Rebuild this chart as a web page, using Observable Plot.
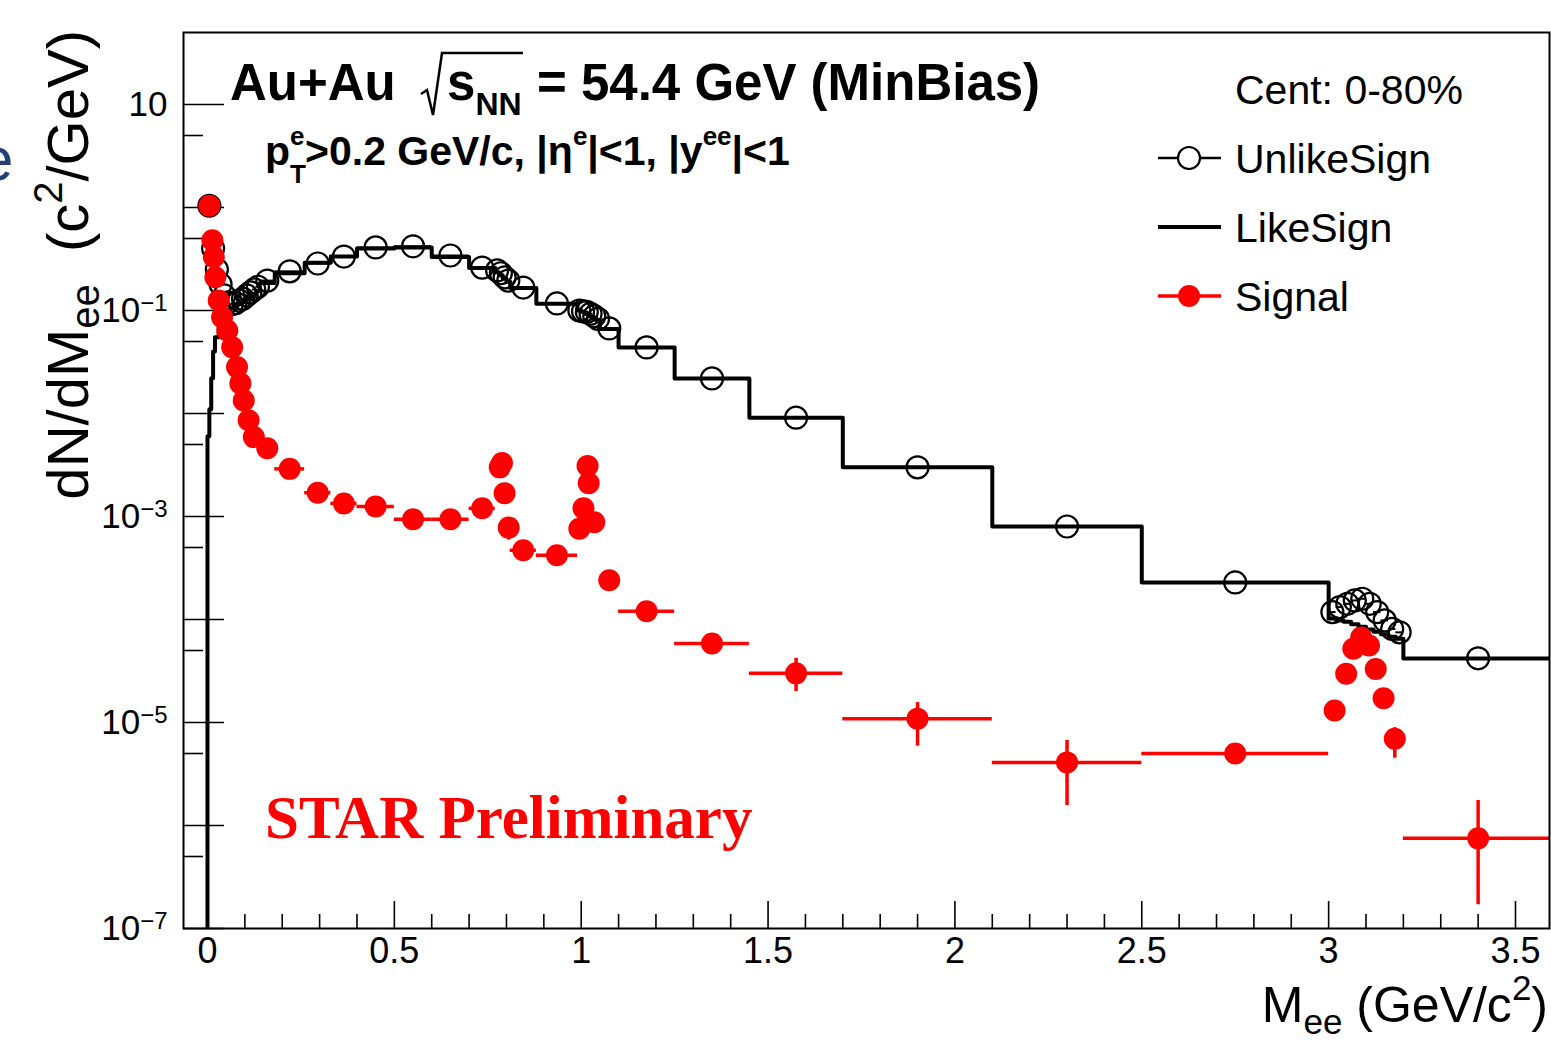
<!DOCTYPE html>
<html>
<head>
<meta charset="utf-8">
<script src="https://cdn.jsdelivr.net/npm/d3@7"></script>
<script src="https://cdn.jsdelivr.net/npm/@observablehq/plot@0.6"></script>
<style>
  body { margin: 0; background: #fff; }
  #chart { position: relative; width: 1551px; height: 1045px; overflow: hidden; }
  #chart svg { display: block; }
</style>
</head>
<body>
<div id="chart"></div>
<script>
// Dielectron invariant-mass spectra, Au+Au at sqrt(sNN) = 54.4 GeV, 0-80% centrality.

// Like-sign background histogram: bin edges (GeV/c^2) and bin contents (c^2/GeV)
const lsEdges = [
  0, 0.005, 0.01, 0.015, 0.02, 0.03, 0.04, 0.05, 0.06, 0.07, 0.08, 0.09, 0.1, 0.11, 0.12, 0.13, 0.14,
  0.18, 0.26, 0.33, 0.40, 0.50, 0.60, 0.70, 0.77, 0.78, 0.79, 0.80, 0.81, 0.88, 0.99,
  1.00, 1.01, 1.02, 1.03, 1.04, 1.05, 1.10, 1.25, 1.45, 1.70, 2.10, 2.50, 3.00,
  3.02, 3.04, 3.06, 3.08, 3.10, 3.12, 3.14, 3.16, 3.18, 3.20, 3.60
];
const lsValues = [
  0.006, 0.011, 0.022, 0.04, 0.055, 0.075, 0.09, 0.1, 0.105, 0.11, 0.115, 0.12, 0.128, 0.135, 0.145, 0.155,
  0.185, 0.23, 0.29, 0.334, 0.40, 0.41, 0.33, 0.258, 0.235, 0.22, 0.205, 0.19, 0.165, 0.116,
  0.1, 0.097, 0.093, 0.088, 0.084, 0.08, 0.066, 0.0438, 0.0219, 0.0091, 0.003, 0.0008, 0.000229,
  1.02e-4, 9.8e-5, 9.5e-5, 9.0e-5, 8.5e-5, 8.0e-5, 7.6e-5, 7.2e-5, 6.8e-5, 6.5e-5, 4.18e-5
];

// Unlike-sign pairs: bin centre, content, bin half-width
const usMass = [
  0.005, 0.015, 0.025, 0.035, 0.045, 0.055, 0.065, 0.075, 0.085, 0.095, 0.105, 0.115, 0.125, 0.135,
  0.16, 0.22, 0.295, 0.365, 0.45, 0.55, 0.65, 0.735, 0.775, 0.785, 0.795, 0.805, 0.845, 0.935,
  0.995, 1.005, 1.015, 1.025, 1.035, 1.045, 1.075, 1.175, 1.35, 1.575, 1.9, 2.3, 2.75,
  3.01, 3.03, 3.05, 3.07, 3.09, 3.11, 3.13, 3.15, 3.17, 3.19, 3.4
];
const usValue = [
  1.04, 0.40, 0.25, 0.18, 0.14, 0.12, 0.115, 0.118, 0.125, 0.13, 0.14, 0.15, 0.16, 0.17,
  0.195, 0.24, 0.286, 0.334, 0.41, 0.42, 0.342, 0.261, 0.245, 0.23, 0.21, 0.195, 0.167, 0.117,
  0.1, 0.098, 0.097, 0.093, 0.088, 0.083, 0.067, 0.0438, 0.0219, 0.0091, 0.003, 0.0008, 0.000229,
  1.18e-4, 1.32e-4, 1.42e-4, 1.53e-4, 1.59e-4, 1.42e-4, 1.18e-4, 9.8e-5, 8.1e-5, 7.5e-5, 4.2e-5
];
const usHalfWidth = [
  0.005, 0.005, 0.005, 0.005, 0.005, 0.005, 0.005, 0.005, 0.005, 0.005, 0.005, 0.005, 0.005, 0.005,
  0.02, 0.04, 0.035, 0.035, 0.05, 0.05, 0.05, 0.035, 0.005, 0.005, 0.005, 0.005, 0.035, 0.055,
  0.005, 0.005, 0.005, 0.005, 0.005, 0.005, 0.025, 0.075, 0.1, 0.125, 0.2, 0.2, 0.25,
  0.01, 0.01, 0.01, 0.01, 0.01, 0.01, 0.01, 0.01, 0.01, 0.01, 0.2
];

// Signal (unlike-sign minus like-sign): centre, content, half-width, stat. error band
const sigMass = [
  0.005, 0.013, 0.017, 0.021, 0.030, 0.039, 0.053, 0.066, 0.079, 0.088, 0.097, 0.110, 0.124,
  0.16, 0.22, 0.295, 0.365, 0.45, 0.55, 0.65, 0.735, 0.782, 0.788, 0.795, 0.806, 0.845, 0.935,
  0.995, 1.006, 1.017, 1.02, 1.035, 1.075, 1.175, 1.35, 1.575, 1.9, 2.3, 2.75,
  3.016, 3.047, 3.066, 3.087, 3.108, 3.126, 3.147, 3.177, 3.4
];
const sigValue = [
  1.04, 0.48, 0.33, 0.21, 0.125, 0.086, 0.064, 0.044, 0.0282, 0.0196, 0.0134, 0.0086, 0.0059,
  0.0046, 0.0029, 0.0017, 0.00134, 0.00125, 0.00094, 0.00094, 0.0012, 0.0030, 0.0033, 0.00168, 0.00078, 0.00047, 0.00042,
  0.00076, 0.0012, 0.0031, 0.0021, 0.00088, 0.00024, 0.00012, 5.85e-5, 3.0e-5, 1.09e-5, 4.1e-6, 5.0e-6,
  1.31e-5, 2.97e-5, 5.2e-5, 6.7e-5, 5.6e-5, 3.3e-5, 1.72e-5, 6.95e-6, 7.5e-7
];
const sigHalfWidth = [
  0.005, 0.005, 0.005, 0.005, 0.005, 0.005, 0.005, 0.005, 0.005, 0.005, 0.005, 0.005, 0.005,
  0.02, 0.04, 0.035, 0.035, 0.05, 0.05, 0.05, 0.035, 0.005, 0.005, 0.005, 0.005, 0.035, 0.055,
  0.005, 0.005, 0.005, 0.005, 0.005, 0.025, 0.075, 0.1, 0.125, 0.2, 0.2, 0.25,
  0.01, 0.01, 0.01, 0.01, 0.01, 0.01, 0.01, 0.01, 0.2
];
const sigErrLow = [
  1.0, 0.46, 0.32, 0.2, 0.12, 0.083, 0.062, 0.042, 0.027, 0.0188, 0.0128, 0.0082, 0.0056,
  0.0043, 0.0027, 0.0016, 0.00126, 0.00117, 0.00087, 0.00087, 0.00112, 0.0028, 0.0031, 0.00155, 0.00059, 0.00040, 0.00037,
  0.00068, 0.0011, 0.0029, 0.0019, 0.00078, 0.00021, 1.0e-4, 4.6e-5, 2.0e-5, 5.9e-6, 1.56e-6, 4.3e-6,
  1.1e-5, 2.6e-5, 4.7e-5, 6.1e-5, 5.1e-5, 2.9e-5, 1.45e-5, 4.5e-6, 1.7e-7
];
const sigErrHigh = [
  1.08, 0.5, 0.34, 0.22, 0.13, 0.089, 0.066, 0.046, 0.0294, 0.0204, 0.014, 0.009, 0.0062,
  0.0049, 0.0031, 0.0018, 0.00142, 0.00133, 0.00101, 0.00101, 0.00128, 0.0032, 0.0035, 0.00181, 0.00093, 0.00054, 0.00047,
  0.00084, 0.0013, 0.0033, 0.0023, 0.00098, 0.00028, 1.4e-4, 7.2e-5, 4.2e-5, 1.56e-5, 6.7e-6, 5.8e-6,
  1.5e-5, 3.3e-5, 5.7e-5, 7.3e-5, 6.1e-5, 3.7e-5, 2.0e-5, 8.9e-6, 1.75e-6
];

// Axis ticks
const xTicksMajor = [0, 0.5, 1, 1.5, 2, 2.5, 3, 3.5];
const xTicksMinor = [0.1, 0.2, 0.3, 0.4, 0.6, 0.7, 0.8, 0.9, 1.1, 1.2, 1.3, 1.4, 1.6, 1.7, 1.8, 1.9,
  2.1, 2.2, 2.3, 2.4, 2.6, 2.7, 2.8, 2.9, 3.1, 3.2, 3.3, 3.4];
const yTicksMajor = [10, 1, 1e-1, 1e-2, 1e-3, 1e-4, 1e-5, 1e-6, 1e-7];
const yTicksMinor = [5, 0.5, 0.05, 0.005, 5e-4, 5e-5, 5e-6, 5e-7];
const yTickLabels = [10, 1e-1, 1e-3, 1e-5, 1e-7];

const xDomain = [-0.0642, 3.591];
const yDomain = [1e-7, 50];

// Tables for the marks
const lsSteps = [{m: lsEdges[0], v: yDomain[0]}]
  .concat(lsEdges.map((e, i) => ({m: e, v: lsValues[Math.min(i, lsValues.length - 1)]})));
const unlike = usMass.map((m, i) => ({m, v: usValue[i], h: usHalfWidth[i]}));
const signal = sigMass.map((m, i) => ({m, v: sigValue[i], h: sigHalfWidth[i], lo: sigErrLow[i], hi: sigErrHigh[i]}));

const W = 1551, H = 1045;
const mL = 183, mR = 2, mT = 32, mB = 117;
const frameH = H - mT - mB, frameW = W - mL - mR;
const RED = "#ff0000";
const SANS = "'Liberation Sans', Arial, Helvetica, sans-serif";

const plot = Plot.plot({
  width: W,
  height: H,
  marginLeft: mL,
  marginRight: mR,
  marginTop: mT,
  marginBottom: mB,
  style: {fontFamily: SANS, color: "#000", background: "#fff"},
  x: {domain: xDomain},
  y: {type: "log", domain: yDomain},
  marks: [
    // tick marks drawn inward from the frame
    Plot.tickX(xTicksMajor, {x: d => d, insetTop: frameH - 27, stroke: "#000", strokeWidth: 1.6}),
    Plot.tickX(xTicksMinor, {x: d => d, insetTop: frameH - 14, stroke: "#000", strokeWidth: 1.6}),
    Plot.tickY(yTicksMajor, {y: d => d, insetRight: frameW - 41, stroke: "#000", strokeWidth: 1.6}),
    Plot.tickY(yTicksMinor, {y: d => d, insetRight: frameW - 20, stroke: "#000", strokeWidth: 1.6}),
    Plot.axisX({ticks: xTicksMajor, tickSize: 0, tickPadding: 9, fontSize: 36, label: null, tickFormat: d => String(d)}),
    Plot.axisY({ticks: yTickLabels, tickSize: 0, tickPadding: 16, fontSize: 35, label: null, tickFormat: d => String(d)}),
    // like-sign histogram
    Plot.line(lsSteps, {x: "m", y: "v", curve: "step-after", stroke: "#000", strokeWidth: 4, clip: true}),
    // unlike-sign points
    Plot.ruleY(unlike, {y: "v", x1: d => d.m - d.h, x2: d => d.m + d.h, stroke: "#000", strokeWidth: 2, clip: true}),
    Plot.dot(unlike, {x: "m", y: "v", r: 11, stroke: "#000", strokeWidth: 2.2, fill: "none"}),
    // signal points with error bars
    Plot.ruleY(signal, {y: "v", x1: d => d.m - d.h, x2: d => d.m + d.h, stroke: RED, strokeWidth: 3.5, clip: true}),
    Plot.ruleX(signal, {x: "m", y1: "lo", y2: "hi", stroke: RED, strokeWidth: 3.5}),
    Plot.dot(signal, {x: "m", y: "v", r: 11, fill: RED, stroke: "none"}),
    Plot.frame({stroke: "#000", strokeWidth: 2})
  ]
});

document.getElementById("chart").appendChild(plot);

const svg = d3.select(plot);

// y tick labels as powers of ten
svg.selectAll('g[aria-label="y-axis tick label"] text').each(function(_, i) {
  const v = yTickLabels[i];
  const exp = Math.round(Math.log10(v));
  const t = d3.select(this);
  t.text(null);
  t.append("tspan").text("10");
  if (exp !== 1) {
    t.append("tspan").attr("font-size", 24).attr("dy", "-0.45em").text("\u2212" + Math.abs(exp));
  }
});

// rich text helper: segments with font size, baseline offset and optional absolute x
function rich(parent, x, y, segs, opts = {}) {
  const t = parent.append("text")
    .attr("x", x).attr("y", y)
    .attr("font-family", opts.family || SANS)
    .attr("font-size", opts.size || 40)
    .attr("font-weight", opts.weight || "normal")
    .attr("fill", opts.fill || "#000")
    .attr("text-anchor", opts.anchor || "start");
  let cur = 0;
  for (const s of segs) {
    const ts = t.append("tspan").text(s.t);
    const off = s.off || 0;
    if (off !== cur) ts.attr("dy", off - cur);
    cur = off;
    if (s.x != null) ts.attr("x", s.x);
    if (s.size) ts.attr("font-size", s.size);
  }
  return t;
}

const ann = svg.append("g").attr("class", "annotations");

// collision system
rich(ann, 230, 100, [{t: "Au+Au"}], {size: 51, weight: "bold"});
ann.append("path")
  .attr("d", "M421,94 L427,90 L433,115 L442,53 L523,53")
  .attr("fill", "none").attr("stroke", "#000").attr("stroke-width", 2.5);
rich(ann, 447, 100, [{t: "s"}, {t: "NN", size: 32, off: 15}], {size: 51, weight: "bold"});
rich(ann, 537, 100, [{t: "= 54.4 GeV (MinBias)"}], {size: 51, weight: "bold"});

// kinematic cuts
rich(ann, 265, 165, [
  {t: "p"},
  {t: "e", size: 26, off: -20, x: 290},
  {t: "T", size: 26, off: 18, x: 290},
  {t: ">0.2 GeV/c, |\u03B7", off: 0, x: 305},
  {t: "e", size: 26, off: -20},
  {t: "|<1, |y", off: 0},
  {t: "ee", size: 26, off: -20},
  {t: "|<1", off: 0}
], {size: 41, weight: "bold"});

// legend
rich(ann, 1235, 104, [{t: "Cent: 0-80%"}], {size: 41});
const lg = [
  {y: 158, label: "UnlikeSign"},
  {y: 227, label: "LikeSign"},
  {y: 296, label: "Signal"}
];
ann.append("line").attr("x1", 1158).attr("x2", 1221).attr("y1", lg[0].y).attr("y2", lg[0].y)
  .attr("stroke", "#000").attr("stroke-width", 2.5);
ann.append("circle").attr("cx", 1189).attr("cy", lg[0].y).attr("r", 11)
  .attr("fill", "#fff").attr("stroke", "#000").attr("stroke-width", 2.2);
ann.append("line").attr("x1", 1158).attr("x2", 1221).attr("y1", lg[1].y).attr("y2", lg[1].y)
  .attr("stroke", "#000").attr("stroke-width", 4);
ann.append("line").attr("x1", 1158).attr("x2", 1221).attr("y1", lg[2].y).attr("y2", lg[2].y)
  .attr("stroke", RED).attr("stroke-width", 3.5);
ann.append("circle").attr("cx", 1189).attr("cy", lg[2].y).attr("r", 11).attr("fill", RED);
for (const d of lg) rich(ann, 1235, d.y + 15, [{t: d.label}], {size: 41});

// preliminary tag
rich(ann, 265, 838, [{t: "STAR Preliminary"}],
  {size: 61, weight: "bold", fill: RED, family: "'Liberation Serif', 'Times New Roman', serif"});

// axis titles
rich(ann, 1548, 1022, [
  {t: "M"}, {t: "ee", size: 35, off: 12}, {t: " (GeV/c", off: 0}, {t: "2", size: 35, off: -22}, {t: ")", off: 0}
], {size: 50, anchor: "end"});
const yTitle = ann.append("g").attr("transform", "translate(88,30) rotate(-90)");
rich(yTitle, 0, 0, [
  {t: "dN/dM"}, {t: "ee", size: 40, off: 11}, {t: "  (c", off: 0}, {t: "2", size: 40, off: -26}, {t: "/GeV)", off: 0}
], {size: 58, anchor: "end"});

// edge of a neighbouring heading
rich(ann, -21, 180, [{t: "e"}], {size: 62, fill: "#243f78"});
</script>
</body>
</html>
